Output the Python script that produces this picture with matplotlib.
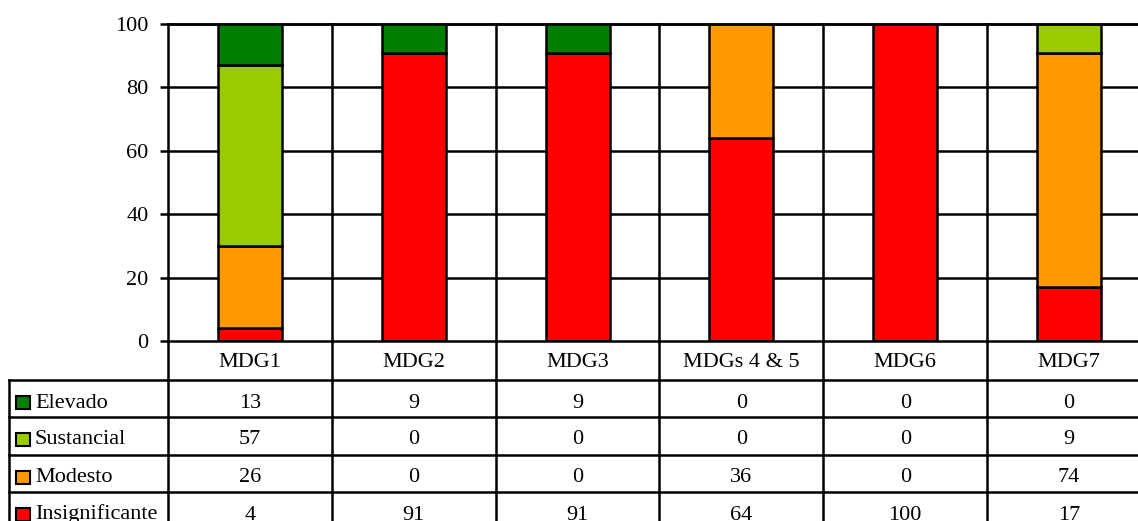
import matplotlib
matplotlib.use("Agg")
import matplotlib.pyplot as plt
from matplotlib.patches import Rectangle

categories = ["MDG1", "MDG2", "MDG3", "MDGs 4 & 5", "MDG6", "MDG7"]
series_names = ["Elevado", "Sustancial", "Modesto", "Insignificante"]
elevado = [13, 9, 9, 0, 0, 0]
sustancial = [57, 0, 0, 0, 0, 9]
modesto = [26, 0, 0, 36, 0, 74]
insignificante = [4, 91, 91, 64, 100, 17]
colors = {"Elevado": "#008000", "Sustancial": "#99CC00",
          "Modesto": "#FF9900", "Insignificante": "#FF0000"}
yticks = [0, 20, 40, 60, 80, 100]

plt.rcParams['font.family'] = ['Liberation Serif', 'DejaVu Serif']
W, H = 1138, 521
fig = plt.figure(figsize=(W / 100, H / 100), dpi=100)

# plot area in pixels
x0, x1 = 168, 1151
yb, yt = 341, 24
ax = fig.add_axes([x0 / W, (H - yb) / H, (x1 - x0) / W, (yb - yt) / H])
n = len(categories)
ax.set_xlim(-0.5, n - 0.5)
ax.set_ylim(0, 100)
lw = 1.8
fs = 16

# grid lines
for v in yticks[1:]:
    ax.axhline(v, color="black", lw=lw, zorder=1, clip_on=False)
for i in range(n):
    ax.axvline(i + 0.5, color="black", lw=lw, zorder=1, clip_on=False)

# stacked bars, bottom to top
stack = [("Insignificante", insignificante), ("Modesto", modesto),
         ("Sustancial", sustancial), ("Elevado", elevado)]
bottom = [0] * n
for name, vals in stack:
    ax.bar(range(n), vals, bottom=bottom, width=0.39, color=colors[name],
           edgecolor="black", linewidth=lw, zorder=3)
    bottom = [b + v for b, v in zip(bottom, vals)]

for s in ["right", "bottom"]:
    ax.spines[s].set_visible(False)
for s in ["left", "top"]:
    ax.spines[s].set_linewidth(lw)
ax.set_xticks([])
ax.set_yticks(yticks)
ax.set_yticklabels([str(v) for v in yticks])
ax.tick_params(axis="y", direction="out", length=6, width=lw, labelsize=fs, pad=8)

# table drawn in a pixel-coordinate overlay
tab = fig.add_axes([0, 0, 1, 1])
tab.set_xlim(0, W)
tab.set_ylim(H, 0)
tab.axis("off")

col_w = (x1 - x0) / n
col_edges = [x0 + col_w * i for i in range(n + 1)]
row_edges = [341, 380, 417, 455, 492, 530]
lab_left = 9

kw = dict(color="black", lw=lw, clip_on=False, solid_capstyle="projecting")
# horizontal lines
tab.plot([x0, x1], [row_edges[0]] * 2, **kw)
for y in row_edges[1:]:
    tab.plot([lab_left, x1], [y, y], **kw)
# vertical lines
tab.plot([lab_left, lab_left], [row_edges[1], row_edges[-1]], **kw)
for x in col_edges:
    tab.plot([x, x], [row_edges[0], row_edges[-1]], **kw)

# header
hb = row_edges[0] + 26
for i, c in enumerate(categories):
    tab.text((col_edges[i] + col_edges[i + 1]) / 2, hb, c, ha="center",
             va="baseline", fontsize=fs)

table_rows = [("Elevado", elevado), ("Sustancial", sustancial),
              ("Modesto", modesto), ("Insignificante", insignificante)]
for r, (name, vals) in enumerate(table_rows):
    top = row_edges[r + 1]
    base = top + 27.5
    tab.add_patch(Rectangle((16.5, top + 15.5), 13.5, 13.5, facecolor=colors[name],
                            edgecolor="black", lw=1.5, clip_on=False))
    tab.text(35, base, name, ha="left", va="baseline", fontsize=fs)
    for i, v in enumerate(vals):
        tab.text((col_edges[i] + col_edges[i + 1]) / 2, base, str(v),
                 ha="center", va="baseline", fontsize=fs)

fig.savefig("out.png", dpi=100)
